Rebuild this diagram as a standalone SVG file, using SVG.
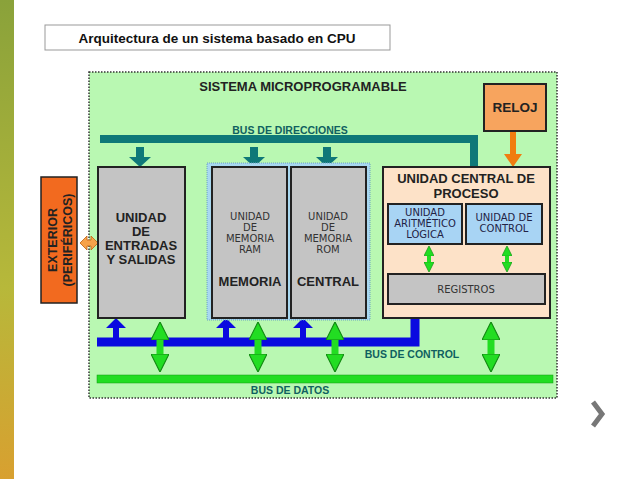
<svg xmlns="http://www.w3.org/2000/svg" width="638" height="479" viewBox="0 0 638 479">
<defs>
<linearGradient id="bar" x1="0" y1="0" x2="0" y2="1"><stop offset="0" stop-color="#8aa23a"/><stop offset="0.6" stop-color="#b7b83a"/><stop offset="1" stop-color="#d8a030"/></linearGradient>
<marker id="ga" viewBox="0 0 10 10" refX="5" refY="5" markerWidth="2.6" markerHeight="2.6" orient="auto-start-reverse"><path d="M0,0L10,5L0,10z" fill="#22dd22" stroke="#118811" stroke-width="0.6"/></marker>
</defs>
<style>
.b{font-family:"Liberation Sans",Arial,sans-serif;font-weight:bold;fill:#222;text-anchor:middle}
.n{font-family:"DejaVu Sans",sans-serif;fill:#333;text-anchor:middle}
.box{stroke:#222;stroke-width:2}
.grn{stroke:#22dd22;stroke-width:7;marker-start:url(#ga);marker-end:url(#ga)}
</style>
<rect width="638" height="479" fill="#fff"/>
<rect x="0" y="0" width="14" height="479" fill="url(#bar)"/>
<g id="title"><rect x="45" y="25" width="345" height="25" fill="#fff" stroke="#999"/>
<text x="217" y="43" class="b" style="font-size:13.5px;fill:#111">Arquitectura de un sistema basado en CPU</text></g>
<g id="sistema"><rect x="89" y="72" width="468" height="326" fill="#b9f8b2" stroke="#333" stroke-width="1.5" stroke-dasharray="1.5,1.5"/>
<text x="303" y="91" class="b" style="font-size:13px">SISTEMA MICROPROGRAMABLE</text></g>
<g id="connectors">
<path d="M100,139H474V167" fill="none" stroke="#0f7878" stroke-width="8"/>
<g fill="#0f7878"><path d="M136,147h8v10h7l-11,10l-11,-10h7z"/><path d="M250,147h8v10h7l-11,10l-11,-10h7z"/><path d="M323,147h8v10h7l-11,10l-11,-10h7z"/></g>
<text x="290" y="134" class="b" style="font-size:10.5px;fill:#0f6060">BUS DE DIRECCIONES</text>
<path d="M97,342H415V318" fill="none" stroke="#0a0ae0" stroke-width="9"/>
<g fill="#0a0ae0"><path d="M113,338v-10h-7l10,-10l10,10h-7v10z"/><path d="M223,338v-10h-7l10,-10l10,10h-7v10z"/><path d="M300,338v-10h-7l10,-10l10,10h-7v10z"/></g>
<text x="412" y="358" class="b" style="font-size:10.5px;fill:#0f6060">BUS DE CONTROL</text>
<rect x="97" y="375" width="456" height="8" fill="#22dd22" stroke="#119911" stroke-width="0.5"/>
<text x="290" y="394" class="b" style="font-size:10.5px;fill:#0f6060">BUS DE DATOS</text>
<line x1="160" y1="331" x2="160" y2="363" class="grn"/>
<line x1="258" y1="331" x2="258" y2="363" class="grn"/>
<line x1="335" y1="331" x2="335" y2="363" class="grn"/>
<line x1="491" y1="331" x2="491" y2="363" class="grn"/>
<path d="M510,131h6v23h6l-9,13l-9,-13h6z" fill="#f07d10"/>
<path d="M80,243l7,-7v4h4v-4l7,7l-7,7v-4h-4v4z" fill="#f7a24a" stroke="#c06010" stroke-width="0.8"/>
</g>
<g id="exterior"><rect x="41" y="177" width="36" height="126" fill="#f26a1f" stroke="#222" stroke-width="1.5"/>
<text transform="translate(57,240) rotate(-90)" class="b" style="font-size:12.5px">EXTERIOR</text>
<text transform="translate(72,240) rotate(-90)" class="b" style="font-size:12.5px">(PERIFÉRICOS)</text></g>
<g id="es"><rect x="98" y="167" width="87" height="151" fill="#c4c4c4" class="box"/>
<text class="b" style="font-size:13px"><tspan x="141" y="222">UNIDAD</tspan><tspan x="141" y="236">DE</tspan><tspan x="141" y="250">ENTRADAS</tspan><tspan x="141" y="264">Y SALIDAS</tspan></text></g>
<g id="memoria"><rect x="207" y="163" width="163" height="157" fill="#a8d8f0" stroke="#6aa0c0" stroke-width="1" stroke-dasharray="1,1"/>
<rect x="212" y="167" width="75" height="151" fill="#c4c4c4" class="box"/>
<rect x="291" y="167" width="75" height="151" fill="#c4c4c4" class="box"/>
<text class="n" style="font-size:10px"><tspan x="250" y="220">UNIDAD</tspan><tspan x="250" y="231">DE</tspan><tspan x="250" y="242">MEMORIA</tspan><tspan x="250" y="253">RAM</tspan></text>
<text class="n" style="font-size:10px"><tspan x="328" y="220">UNIDAD</tspan><tspan x="328" y="231">DE</tspan><tspan x="328" y="242">MEMORIA</tspan><tspan x="328" y="253">ROM</tspan></text>
<text x="250" y="286" class="b" style="font-size:13px">MEMORIA</text>
<text x="328" y="286" class="b" style="font-size:13px">CENTRAL</text></g>
<g id="reloj"><rect x="484" y="84" width="62" height="47" fill="#f7a45e" class="box"/>
<text x="515" y="112" class="b" style="font-size:13.5px">RELOJ</text></g>
<g id="cpu"><rect x="383" y="167" width="167" height="151" fill="#fde2c8" class="box"/>
<text class="b" style="font-size:13px"><tspan x="466" y="183">UNIDAD CENTRAL DE</tspan><tspan x="466" y="198">PROCESO</tspan></text>
<rect x="388" y="204" width="74" height="40" fill="#a8d4f4" class="box"/>
<rect x="466" y="204" width="76" height="40" fill="#a8d4f4" class="box"/>
<text class="n" style="font-size:10px;fill:#224"><tspan x="425" y="216">UNIDAD</tspan><tspan x="425" y="227">ARITMÉTICO</tspan><tspan x="425" y="238">LÓGICA</tspan></text>
<text class="n" style="font-size:10px;fill:#224"><tspan x="504" y="221">UNIDAD DE</tspan><tspan x="504" y="232">CONTROL</tspan></text>
<rect x="388" y="274" width="157" height="30" fill="#c4c4c4" class="box"/>
<text x="466" y="293" class="n" style="font-size:10px">REGISTROS</text>
<line x1="429" y1="251" x2="429" y2="267" class="grn" style="stroke-width:4"/>
<line x1="507" y1="251" x2="507" y2="267" class="grn" style="stroke-width:4"/></g>
<path d="M593,402L602,414L593,426" fill="none" stroke="#777" stroke-width="5"/>
</svg>
